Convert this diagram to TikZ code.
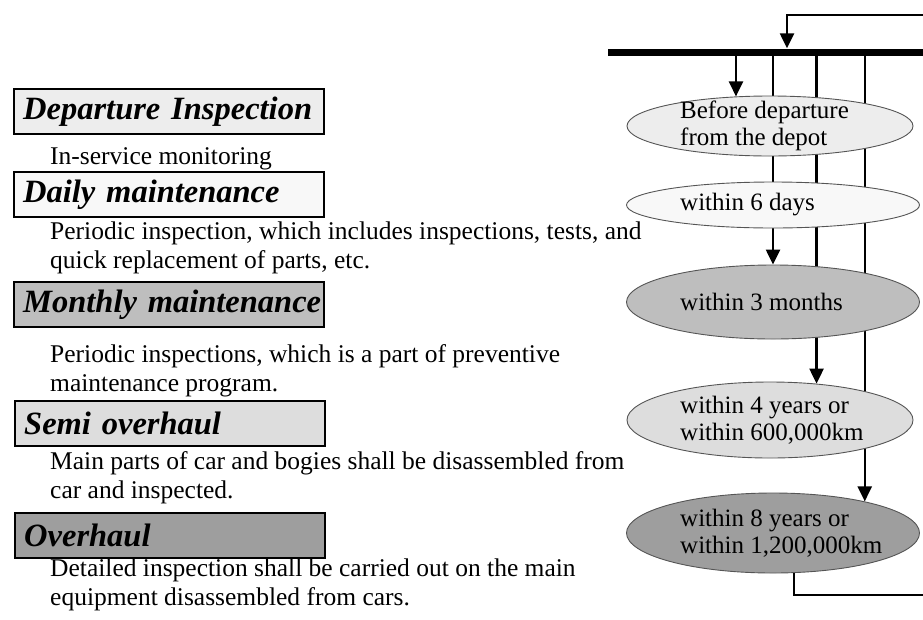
\documentclass[tikz,border=0pt]{standalone}
\usepackage{fontspec}
\setmainfont{Liberation Serif}
\usetikzlibrary{arrows.meta, positioning, shapes.geometric, backgrounds}
\definecolor{boxlight}{HTML}{EDEDED}
\definecolor{boxwhite}{HTML}{F8F8F8}
\definecolor{boxmid}{HTML}{BEBEBE}
\definecolor{boxpale}{HTML}{DDDDDD}
\definecolor{boxdark}{HTML}{9E9E9E}
\definecolor{rim}{HTML}{555555}

\begin{document}
\begin{tikzpicture}[x=1pt, y=-1pt, >={Triangle[length=15pt, width=14pt]},
  hdr/.style={draw, line width=2.4pt, anchor=north west, minimum height=45, inner xsep=9, inner ysep=0, text width=292, align=left, font=\fontsize{32.5}{36}\selectfont\bfseries\itshape},
  desc/.style={anchor=north west, inner sep=0, align=left, font=\fontsize{25.5}{29}\selectfont},
  oval/.style={ellipse, draw=rim, line width=0.9pt, inner sep=0},
  otext/.style={anchor=west, inner sep=0, align=left, font=\fontsize{25}{27.5}\selectfont},
  feed/.style={line width=2.4pt}]
\useasboundingbox (0,0) rectangle (923,619);
% —— 左侧：检修等级与说明 ——
\node[hdr, fill=boxlight] (h1) at (13,88) {\mbox{Departure Inspection}};
\node[desc] (d1) at (50,147) {In-service monitoring};
\node[hdr, fill=boxwhite] (h2) at (13,171) {\mbox{Daily maintenance}};
\node[desc] (d2) at (50,222) {Periodic inspection, which includes inspections, tests, and\\quick replacement of parts, etc.};
\node[hdr, fill=boxmid] (h3) at (13,281) {\mbox{Monthly maintenance}};
\node[desc] (d3) at (50,344) {Periodic inspections, which is a part of preventive\\maintenance program.};
\node[hdr, fill=boxpale] (h4) at (14,400) {\mbox{Semi overhaul}};
\node[desc] (d4) at (50,451) {Main parts of car and bogies shall be disassembled from\\car and inspected.};
\node[hdr, fill=boxdark] (h5) at (14,512) {\mbox{Overhaul}};
\node[desc] (d5) at (50,559) {Detailed inspection shall be carried out on the main\\equipment disassembled from cars.};
% —— 右侧：周期 ——
\node[fill=black, minimum width=315, minimum height=7, inner sep=0] (bar) at (765.5,52) {};
\node[oval, fill=boxlight, minimum width=286, minimum height=60] (e1) at (770,126) {};
\node[otext] (t1) at ([xshift=-90]e1.center) {Before departure\\from the depot};
\node[oval, fill=boxwhite, minimum width=293, minimum height=46] (e2) at (773,205) {};
\node[otext] (t2) at ([xshift=-93]e2.center) {within 6 days};
\node[oval, fill=boxmid, minimum width=293, minimum height=74] (e3) at (773,302) {};
\node[otext] (t3) at ([xshift=-93]e3.center) {within 3 months};
\node[oval, fill=boxpale, minimum width=286, minimum height=76] (e4) at (770,420) {};
\node[otext] (t4) at ([xshift=-90]e4.center) {within 4 years or\\within 600,000km};
\node[oval, fill=boxdark, minimum width=293, minimum height=80] (e5) at (773,533) {};
\node[otext] (t5) at ([xshift=-93]e5.center) {within 8 years or\\within 1,200,000km};
% 竖线从横杠下到各椭圆（在椭圆后面）
\begin{scope}[on background layer]
\draw[feed, ->] (e1.139 |- bar.center) -- (e1.139);
\draw[feed, ->] (e3.north |- bar.center) -- (e3.north);
\draw[feed, ->] (e4.38 |- bar.center) -- (e4.38);
\draw[feed, ->] (e5.19 |- bar.center) -- (e5.19);
\end{scope}
% 回路
\coordinate (fbin) at (923,15);
\coordinate (fbturn) at (787,15);
\coordinate (fbout) at (923,595);
\draw[feed, ->] (fbin) -- (fbturn) -- (fbturn |- bar.north);
\draw[feed] (e5.-62) |- (fbout);
\end{tikzpicture}
\end{document}
